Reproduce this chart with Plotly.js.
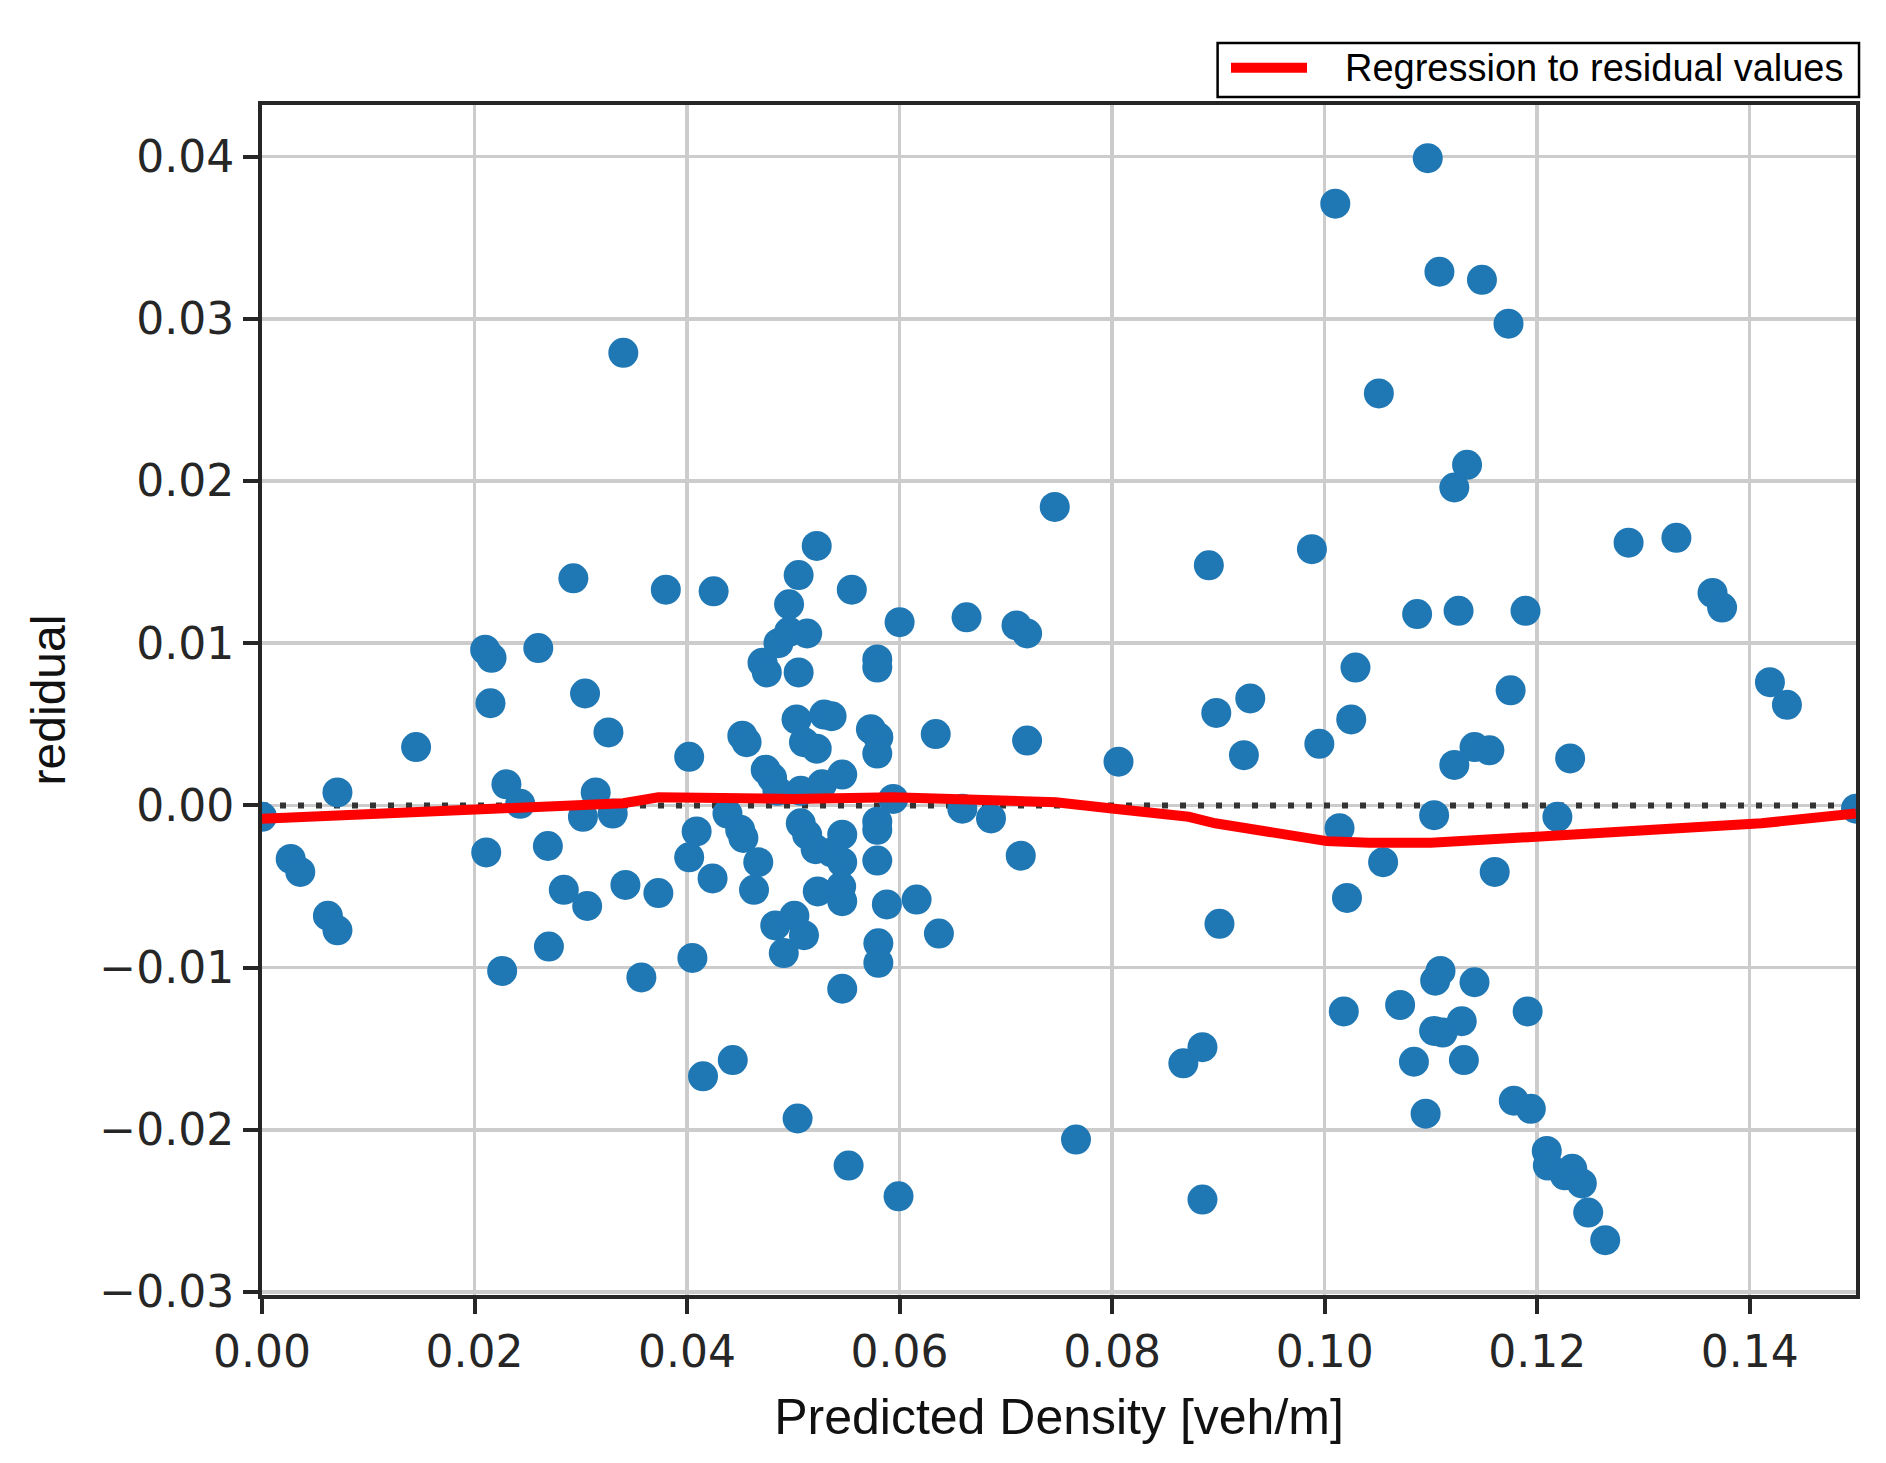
<!DOCTYPE html>
<html>
<head>
<meta charset="utf-8">
<script src="https://cdn.plot.ly/plotly-3.0.1.min.js"></script>
<style>
  html, body { margin: 0; padding: 0; background: #fff; }
  #chart { width: 1886px; height: 1463px; }
</style>
</head>
<body>
<div id="chart"></div>
<script>
// residuals: predicted density [veh/m] vs residual
var predicted = [0.0000, 0.0027, 0.0036, 0.0062, 0.0071, 0.0071, 0.0145, 0.0210, 0.0216, 0.0215,
  0.0211, 0.0226, 0.0230, 0.0243, 0.0260, 0.0269, 0.0270, 0.0284, 0.0293, 0.0304,
  0.0302, 0.0306, 0.0314, 0.0326, 0.0330, 0.0340, 0.0342, 0.0357, 0.0373, 0.0380,
  0.0402, 0.0402, 0.0409, 0.0405, 0.0415, 0.0424, 0.0425, 0.0438, 0.0443, 0.0452,
  0.0450, 0.0453, 0.0456, 0.0463, 0.0467, 0.0471, 0.0475, 0.0474, 0.0480, 0.0483,
  0.0485, 0.0486, 0.0491, 0.0496, 0.0496, 0.0501, 0.0504, 0.0505, 0.0503, 0.0505,
  0.0507, 0.0507, 0.0510, 0.0513, 0.0510, 0.0513, 0.0522, 0.0521, 0.0522, 0.0523,
  0.0527, 0.0529, 0.0536, 0.0536, 0.0546, 0.0546, 0.0546, 0.0545, 0.0546, 0.0546,
  0.0552, 0.0555, 0.0573, 0.0580, 0.0579, 0.0579, 0.0579, 0.0579, 0.0579, 0.0579,
  0.0580, 0.0580, 0.0588, 0.0594, 0.0600, 0.0599, 0.0616, 0.0634, 0.0637, 0.0659,
  0.0663, 0.0686, 0.0710, 0.0720, 0.0714, 0.0720, 0.0746, 0.0766, 0.0806, 0.0867,
  0.0885, 0.0885, 0.0891, 0.0898, 0.0901, 0.0924, 0.0930, 0.0988, 0.0995, 0.1010,
  0.1014, 0.1018, 0.1021, 0.1025, 0.1029, 0.1051, 0.1055, 0.1071, 0.1084, 0.1087,
  0.1097, 0.1095, 0.1103, 0.1104, 0.1109, 0.1103, 0.1111, 0.1108, 0.1122, 0.1122,
  0.1126, 0.1129, 0.1131, 0.1134, 0.1141, 0.1141, 0.1148, 0.1155, 0.1160, 0.1173,
  0.1175, 0.1178, 0.1189, 0.1191, 0.1194, 0.1209, 0.1210, 0.1219, 0.1226, 0.1233,
  0.1231, 0.1242, 0.1248, 0.1264, 0.1286, 0.1331, 0.1365, 0.1374, 0.1419, 0.1435,
  0.1500];
var residual = [-0.0007, -0.0033, -0.0041, -0.0068, -0.0077, 0.0008, 0.0036, 0.0096, 0.0091, 0.0063,
  -0.0029, -0.0102, 0.0013, 0.0001, 0.0097, -0.0025, -0.0087, -0.0052, 0.0140, 0.0069,
  -0.0007, -0.0062, 0.0008, 0.0045, -0.0005, 0.0279, -0.0049, -0.0106, -0.0054, 0.0133,
  0.0030, -0.0032, -0.0016, -0.0094, -0.0167, -0.0045, 0.0132, -0.0005, -0.0157, 0.0043,
  -0.0015, -0.0020, 0.0039, -0.0052, -0.0035, 0.0088, 0.0082, 0.0022, 0.0017, -0.0074,
  0.0009, 0.0100, -0.0091, 0.0124, 0.0107, -0.0068, -0.0193, 0.0142, 0.0053, 0.0082,
  0.0009, -0.0011, 0.0039, 0.0106, -0.0080, -0.0018, 0.0160, -0.0027, 0.0035, -0.0053,
  0.0013, 0.0056, -0.0029, 0.0055, 0.0019, -0.0018, -0.0035, -0.0050, -0.0059, -0.0113,
  -0.0222, 0.0133, 0.0047, 0.0042, 0.0032, 0.0090, 0.0085, -0.0010, -0.0015, -0.0034,
  -0.0085, -0.0097, -0.0061, 0.0004, 0.0113, -0.0241, -0.0058, 0.0044, -0.0079, -0.0002,
  0.0116, -0.0008, 0.0111, 0.0106, -0.0031, 0.0040, 0.0184, -0.0206, 0.0027, -0.0159,
  -0.0149, -0.0243, 0.0148, 0.0057, -0.0073, 0.0031, 0.0066, 0.0158, 0.0038, 0.0371,
  -0.0014, -0.0127, -0.0057, 0.0053, 0.0085, 0.0254, -0.0035, -0.0123, -0.0158, 0.0118,
  0.0399, -0.0190, -0.0006, -0.0108, -0.0102, -0.0139, -0.0140, 0.0329, 0.0025, 0.0196,
  0.0120, -0.0133, -0.0157, 0.0210, 0.0036, -0.0109, 0.0324, 0.0034, -0.0041, 0.0297,
  0.0071, -0.0182, 0.0120, -0.0127, -0.0187, -0.0213, -0.0222, -0.0007, -0.0228, -0.0224,
  0.0029, -0.0233, -0.0251, -0.0268, 0.0162, 0.0165, 0.0131, 0.0122, 0.0076, 0.0062,
  -0.0002];

// lowess fit through the residuals
var fitX = [0, 0.007, 0.020, 0.030, 0.034, 0.0373, 0.0426, 0.050, 0.0594, 0.068, 0.072, 0.0747,
  0.0802, 0.0872, 0.0897, 0.094, 0.1002, 0.1042, 0.110, 0.1207, 0.130, 0.1411, 0.150];
var fitY = [-0.00082, -0.0006, -0.0003, 0.0, 0.00014, 0.0005, 0.0004, 0.0004, 0.0005, 0.0004, 0.0003, 0.0002,
  -0.0002, -0.0007, -0.0011, -0.0016, -0.0022, -0.0023, -0.0023, -0.0019, -0.0016, -0.0011, -0.0005];

var zeroX = [0, 0.15];
var zeroY = [0, 0];

var xTicks = [0, 0.02, 0.04, 0.06, 0.08, 0.10, 0.12, 0.14];
var yTicks = [-0.03, -0.02, -0.01, 0, 0.01, 0.02, 0.03, 0.04];
var legendLabel = 'Regression to residual values';

var zeroLine = {
  x: zeroX, y: zeroY, type: 'scatter', mode: 'lines',
  line: { color: '#333333', width: 6, dash: '6px,12px' },
  hoverinfo: 'skip', showlegend: false
};

var points = {
  x: predicted, y: residual, type: 'scatter', mode: 'markers',
  marker: { color: '#1f77b4', size: 30, line: { width: 0 } },
  showlegend: false
};

var fit = {
  x: fitX, y: fitY, type: 'scatter', mode: 'lines', name: legendLabel,
  line: { color: '#ff0000', width: 10 },
  showlegend: false
};

var axisCommon = {
  showline: true, mirror: true, linecolor: '#262626', linewidth: 4,
  ticks: 'outside', ticklen: 15, tickwidth: 4, tickcolor: '#262626',
  showgrid: true, gridcolor: '#cccccc', gridwidth: 3.5,
  zeroline: false,
  tickfont: { family: 'DejaVu Sans', size: 44, color: '#262626' }
};

var layout = {
  width: 1886, height: 1463,
  margin: { l: 262, r: 30, t: 105, b: 168 },
  paper_bgcolor: '#ffffff', plot_bgcolor: '#ffffff',
  showlegend: false,
  xaxis: Object.assign({}, axisCommon, {
    range: [0, 0.15], tickvals: xTicks, tickformat: '.2f',
    title: { text: 'Predicted Density [veh/m]', standoff: 24,
             font: { family: 'Liberation Sans, Arial', size: 50, color: '#111111' } }
  }),
  yaxis: Object.assign({}, axisCommon, {
    range: [-0.03018, 0.04318], tickvals: yTicks, tickformat: '.2f',
    title: { text: 'redidual', standoff: 20,
             font: { family: 'Liberation Sans, Arial', size: 48, color: '#111111' } }
  }),
  shapes: [
    { type: 'rect', xref: 'paper', yref: 'paper', x0: 0.5995, x1: 1.0019, y0: 1.0067, y1: 1.0521,
      line: { color: '#000000', width: 2.5 }, fillcolor: '#ffffff' },
    { type: 'line', xref: 'paper', yref: 'paper', x0: 0.6079, x1: 0.6556, y0: 1.0313, y1: 1.0313,
      line: { color: '#ff0000', width: 10 } }
  ],
  annotations: [
    { xref: 'paper', yref: 'paper', x: 0.678, y: 1.0313, xanchor: 'left', yanchor: 'middle',
      text: legendLabel, showarrow: false,
      font: { family: 'Liberation Sans, Arial', size: 38, color: '#000000' } }
  ]
};

Plotly.newPlot('chart', [zeroLine, points, fit], layout, { displayModeBar: false, staticPlot: true });
</script>
</body>
</html>
